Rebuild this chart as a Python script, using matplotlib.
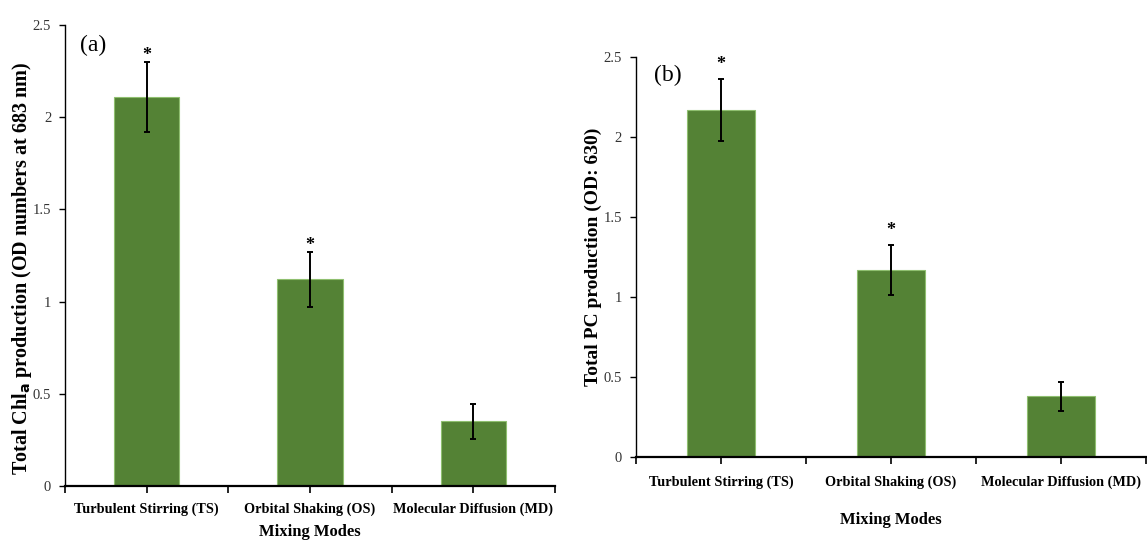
import matplotlib.pyplot as plt
import numpy as np

categories = ['Turbulent Stirring (TS)', 'Orbital Shaking (OS)', 'Molecular Diffusion (MD)']

chl_values = [2.11, 1.12, 0.35]
chl_errors = [0.19, 0.15, 0.095]
chl_signif = [True, True, False]

pc_values = [2.17, 1.17, 0.38]
pc_errors = [0.195, 0.155, 0.09]
pc_signif = [True, True, False]

yticks = [0, 0.5, 1, 1.5, 2, 2.5]
yticklabels = ['0', '0.5', '1', '1.5', '2', '2.5']

BAR_COLOR = '#548235'
EDGE_COLOR = '#8fbf6f'
SERIF = ['Liberation Serif', 'DejaVu Serif']


def draw_panel(ax, values, errors, signif, ylabel, ylabel_size, ylabel_xy, tag, tag_xy,
               star_gap, xlabel_pad, ticklabel_pad):
	x = np.arange(len(categories))
	ax.bar(x, values, width=0.4, color=BAR_COLOR, edgecolor=EDGE_COLOR, linewidth=0.8, zorder=2)
	ax.errorbar(x, values, yerr=errors, fmt='none', ecolor='black',
	            elinewidth=1.4, capsize=2, capthick=1.4, zorder=3)
	for xi, v, e, s in zip(x, values, errors, signif):
		if s:
			ax.text(xi, v + e + star_gap, '*', ha='center', va='center',
			        fontsize=13, fontweight='bold', family=SERIF)

	ax.set_xlim(-0.5, len(categories) - 0.5)
	ax.set_ylim(0, 2.5)
	ax.set_yticks(yticks)
	ax.set_yticklabels(yticklabels, family=SERIF, fontsize=10.5, color='#333333')
	ax.set_xticks(x)
	ax.set_xticklabels(categories, family=SERIF, fontsize=10.3, fontweight='bold')
	ax.set_xticks(np.arange(-0.5, len(categories), 1.0), minor=True)
	ax.tick_params(axis='x', which='both', direction='out', length=5, width=1.2, pad=ticklabel_pad)
	ax.tick_params(axis='y', direction='out', length=4, width=1.0, pad=6)

	ax.spines['top'].set_visible(False)
	ax.spines['right'].set_visible(False)
	ax.spines['left'].set_linewidth(1.0)
	ax.spines['bottom'].set_linewidth(1.6)

	ax.set_ylabel(ylabel, family=SERIF, fontsize=ylabel_size, fontweight='bold')
	ax.yaxis.set_label_coords(*ylabel_xy)
	ax.set_xlabel('Mixing Modes', family=SERIF, fontsize=12, fontweight='bold', labelpad=xlabel_pad)
	ax.text(tag_xy[0], tag_xy[1], tag, transform=ax.transAxes, family=SERIF,
	        fontsize=17, ha='left', va='center')


fig = plt.figure(figsize=(11.47, 5.40), dpi=100)

ax1 = fig.add_axes([0.0567, 0.100, 0.4272, 0.854])
draw_panel(ax1, chl_values, chl_errors, chl_signif,
           r'Total Chl$_\mathbf{a}$ production (OD numbers at 683 nm)', 14.5, (-0.064, 0.473),
           '(a)', (0.03, 0.955), 0.035, 6, 7)

ax2 = fig.add_axes([0.5545, 0.1537, 0.4446, 0.7407])
draw_panel(ax2, pc_values, pc_errors, pc_signif,
           'Total PC production (OD: 630)', 14, (-0.066, 0.50),
           '(b)', (0.035, 0.955), 0.09, 17, 8)

fig.savefig('out.png', dpi=100)
